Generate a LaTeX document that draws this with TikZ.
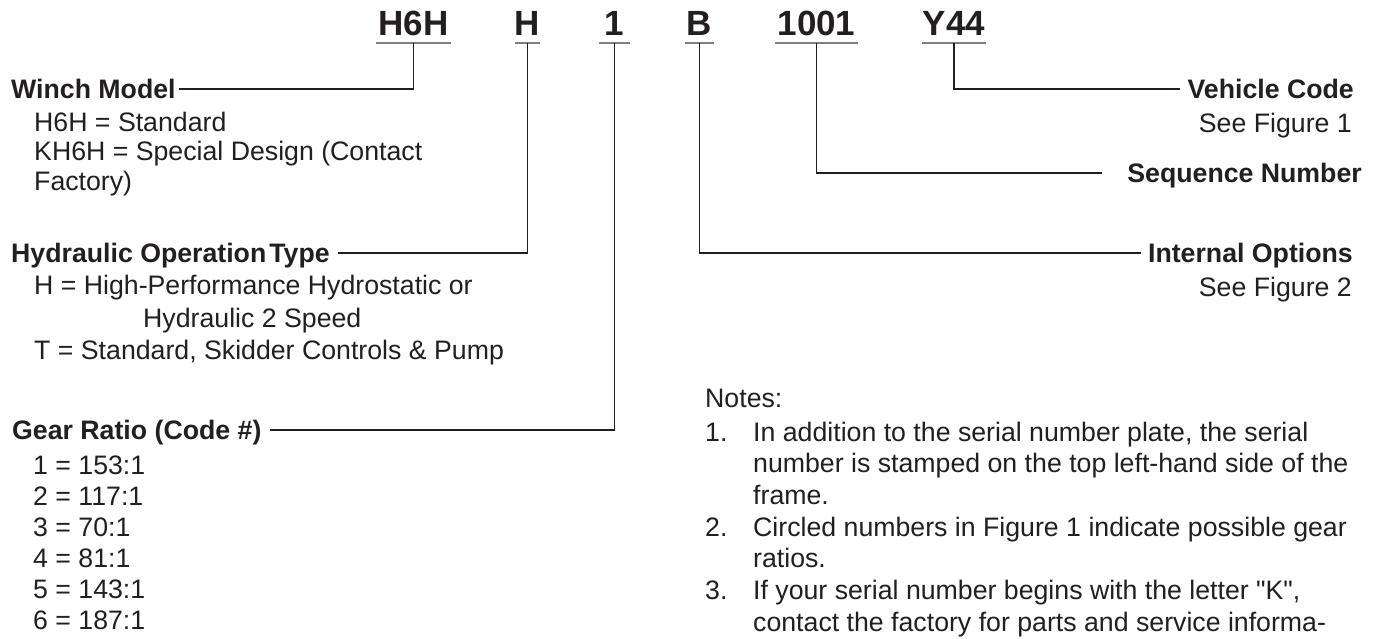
\documentclass[tikz,border=0pt]{standalone}
\usepackage{fontspec}
\setmainfont{Liberation Sans}[Ligatures=TeXOff]
\definecolor{ink}{HTML}{231F20}
\definecolor{ulgray}{HTML}{808080}
\tikzset{
  txt/.style={anchor=base west, inner sep=0pt, text=ink, font=\fontsize{26.7}{31.7}\selectfont},
  hd/.style={txt, font=\fontsize{26.7}{31.7}\selectfont\bfseries, text height=19pt, text depth=0pt},
  rtxt/.style={txt, anchor=base east},
  rhd/.style={hd, anchor=base east},
  code/.style={anchor=base, inner xsep=0pt, inner ysep=8pt, text depth=0pt, text=ink,
               font=\fontsize{35}{40}\selectfont\bfseries},
  uline/.style={draw=ulgray, line width=2.2pt},
  conn/.style={draw=ink, line width=1.3pt}
}
\begin{document}
\begin{tikzpicture}[x=1pt, y=-1pt]
\useasboundingbox (0,0) rectangle (1379,638);
\fill[white] (0,0) rectangle (1379,638);

% code row
\node[code, minimum width=75pt] (c1) at (413.5,35) {H6H};
\node[code, minimum width=25pt] (c2) at (527.5,35) {H};
\node[code, minimum width=30pt] (c3) at (614.5,35) {1};
\node[code, minimum width=29pt] (c4) at (699.5,35) {B};
\node[code, minimum width=83pt] (c5) at (816.5,35) {1001};
\node[code, minimum width=64pt] (c6) at (954,35) {Y44};
\foreach \c in {c1,c2,c3,c4,c5,c6}
  \draw[uline] (\c.south west) -- (\c.south east);

% left column
\node[hd] (winch) at (11,98.5) {Winch Model};
\node[txt] (w1) at (34,131) {H6H = Standard};
\node[txt] (w2) at (34,160.5) {KH6H = Special Design (Contact};
\node[txt] (w3) at (34,190) {Factory)};

\node[hd] (hyd) at (11,262.5) {Hydraulic Operation\hspace{3pt}Type};
\node[txt] (h1) at (34,294.5) {H = High-Performance Hydrostatic or};
\node[txt] (h2) at (143,327.5) {Hydraulic 2 Speed};
\node[txt] (h3) at (34,359.5) {T = Standard, Skidder Controls \& Pump};

\node[hd] (gear) at (12,439.5) {Gear Ratio (Code \#)};
\node[txt] (g1) at (33,474.5) {1 = 153:1};
\node[txt] (g2) at (33,505.5) {2 = 117:1};
\node[txt] (g3) at (33,536.5) {3 = 70:1};
\node[txt] (g4) at (33,567.5) {4 = 81:1};
\node[txt] (g5) at (33,598.5) {5 = 143:1};
\node[txt] (g6) at (33,629.5) {6 = 187:1};

% right column
\node[rhd] (vehicle) at (1354,98.5) {Vehicle Code};
\node[rtxt] (sf1) at (1352,132.5) {See Figure 1};
\node[rhd] (seq) at (1362,182.5) {Sequence Number};
\node[rhd] (internal) at (1353,262.5) {Internal Options};
\node[rtxt] (sf2) at (1352,296.5) {See Figure 2};

% notes
\node[txt] (notes) at (705,407.5) {Notes:};
\node[txt] (n1) at (705,441.5) {1.};
\node[txt] (n1a) at (753,441.5) {In addition to the serial number plate, the serial};
\node[txt] (n1b) at (753,472.5) {number is stamped on the top left-hand side of the};
\node[txt] (n1c) at (753,504.5) {frame.};
\node[txt] (n2) at (705,536.5) {2.};
\node[txt] (n2a) at (753,536.5) {Circled numbers in Figure 1 indicate possible gear};
\node[txt] (n2b) at (753,567.5) {ratios.};
\node[txt] (n3) at (705,599.5) {3.};
\node[txt] (n3a) at (753,599.5) {If your serial number begins with the letter "K",};
\node[txt] (n3b) at (753,631.5) {contact the factory for parts and service informa-};

% connectors
\draw[conn] (c1.south) |- ([xshift=3pt]winch.east);
\draw[conn] (c2.south) |- ([xshift=8pt]hyd.east);
\draw[conn] (c3.south) |- ([xshift=8pt]gear.east);
\draw[conn] (c4.south) |- ([xshift=-7pt]internal.west);
\draw[conn] (c5.south) |- ([xshift=-25pt]seq.west);
\draw[conn] (c6.south) |- ([xshift=-7pt]vehicle.west);
\end{tikzpicture}
\end{document}
